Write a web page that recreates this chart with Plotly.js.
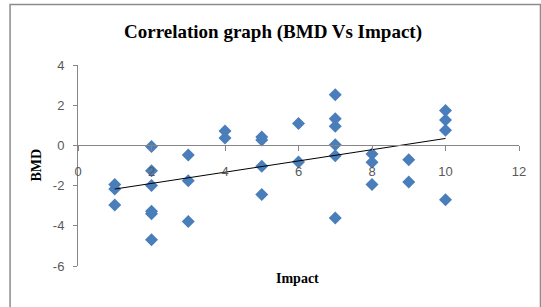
<!DOCTYPE html>
<html>
<head>
<meta charset="utf-8">
<script src="https://cdn.plot.ly/plotly-3.0.1.min.js"></script>
<style>
html,body{margin:0;padding:0;background:#fff;}
#chart{width:541px;height:307px;}
</style>
</head>
<body>
<div id="chart"></div>
<script>
// Data
const impact = [1,1,1, 2,2,2,2,2,2, 3,3,3, 4,4, 5,5,5,5, 6,6, 7,7,7,7,7,7, 8,8,8, 9,9, 10,10,10,10];
const bmd = [-1.95,-2.17,-2.97,
  -0.05,-1.26,-2.0,-3.27,-3.4,-4.7,
  -0.48,-1.76,-3.78,
  0.72,0.37,
  0.42,0.27,-1.04,-2.44,
  1.09,-0.83,
  2.52,1.33,0.95,0.03,-0.51,-3.61,
  -0.43,-0.84,-1.95,
  -0.71,-1.82,
  1.74,1.26,0.75,-2.7];
const xTicks = [0,2,4,6,8,10,12];
const yTicks = [-6,-4,-2,0,2,4];

// Linear trendline (least squares) from the data
const n = impact.length;
const mx = impact.reduce((a,b)=>a+b,0)/n;
const my = bmd.reduce((a,b)=>a+b,0)/n;
let sxy=0, sxx=0;
for(let i=0;i<n;i++){sxy+=(impact[i]-mx)*(bmd[i]-my); sxx+=(impact[i]-mx)**2;}
const slope = sxy/sxx, intercept = my - slope*mx;
const xMin = Math.min(...impact), xMax = Math.max(...impact);
const trendX = [xMin, xMax];
const trendY = trendX.map(x=>intercept+slope*x);

const W=541,H=307, L=77.5, R=22, T=65, B=41;
const pw = W-L-R, ph = H-T-B;
const px = v => (v-L)/pw;          // pixel x -> paper
const py = v => (H-B-v)/ph;        // pixel y -> paper

const data = [
  {x: impact, y: bmd, type:'scatter', mode:'markers',
   marker:{symbol:'diamond', size:10, color:'#4A7EBB'}, showlegend:false, hoverinfo:'skip'},
  {x: trendX, y: trendY, type:'scatter', mode:'lines',
   line:{color:'#000', width:1}, showlegend:false, hoverinfo:'skip'}
];

const layout = {
  width: W, height: H,
  margin:{l:L, r:R, t:T, b:B, pad:0},
  paper_bgcolor:'#fff', plot_bgcolor:'#fff',
  showlegend:false,
  xaxis:{range:[0,12], tickvals:xTicks, ticktext:xTicks.map(String),
    anchor:'free', position:0.6, showline:true, linecolor:'#868686', linewidth:1,
    ticks:'outside', ticklen:5, tickcolor:'#868686', showgrid:false, zeroline:false,
    ticklabelstandoff:9,
    tickfont:{family:'Liberation Sans, Arial, sans-serif', size:13, color:'#595959'}},
  yaxis:{range:[-6,4], tickvals:yTicks, ticktext:yTicks.map(String),
    showline:true, linecolor:'#868686', linewidth:1, ticks:'outside', ticklen:4,
    tickcolor:'#868686', showgrid:false, zeroline:false, ticklabelstandoff:6,
    tickfont:{family:'Liberation Sans, Arial, sans-serif', size:13, color:'#595959'}},
  annotations:[
    {text:'<b>Correlation graph (BMD Vs Impact)</b>', xref:'paper', yref:'paper',
     x:px(273), y:py(32), xanchor:'center', yanchor:'middle', showarrow:false,
     font:{family:'Liberation Serif, Times New Roman, serif', size:19, color:'#000'}},
    {text:'<b>Impact</b>', xref:'paper', yref:'paper',
     x:px(297), y:py(278), xanchor:'center', yanchor:'middle', showarrow:false,
     font:{family:'Liberation Serif, Times New Roman, serif', size:14, color:'#000'}},
    {text:'<b>BMD</b>', xref:'paper', yref:'paper', textangle:-90,
     x:px(35), y:py(165), xanchor:'center', yanchor:'middle', showarrow:false,
     font:{family:'Liberation Serif, Times New Roman, serif', size:14, color:'#000'}}
  ],
  shapes:[
    {type:'rect', xref:'paper', yref:'paper', x0:px(9.5), x1:px(540.5), y0:py(312), y1:py(4.5),
     line:{color:'#8C8C8C', width:1.5}, fillcolor:'rgba(0,0,0,0)', layer:'below'}
  ]
};

Plotly.newPlot('chart', data, layout, {staticPlot:true, displayModeBar:false});
</script>
</body>
</html>
